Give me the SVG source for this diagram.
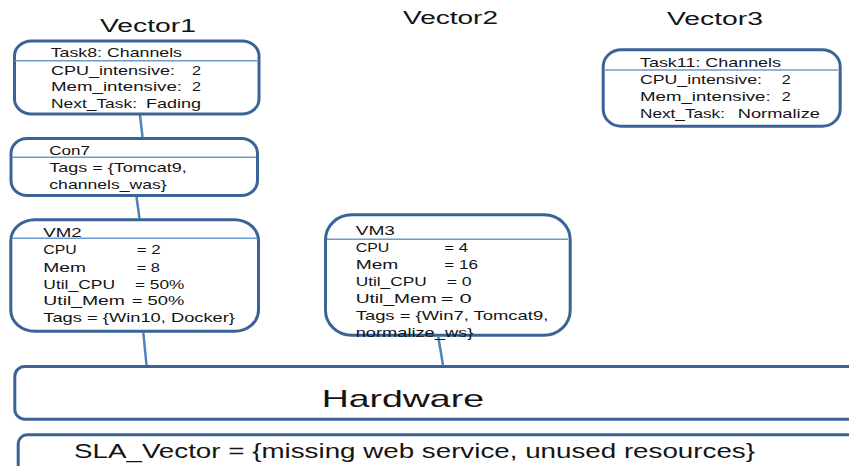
<svg xmlns="http://www.w3.org/2000/svg" width="849" height="466" viewBox="0 0 849 466">
<style>
.box{fill:#ffffff;stroke:#3a6496;stroke-width:3}
.sep{stroke:#6d9ad0;stroke-width:1.5}
.con{stroke:#4f81bd;stroke-width:2.5;fill:none}
text{font-family:"Liberation Sans",Arial,sans-serif;fill:#141414}
.b{font-size:13px}
.h{font-size:18px}
.hw{font-size:24px}
.sla{font-size:21px}
</style>
<rect width="849" height="466" fill="#ffffff"/>
<g id="titles">
<text class="h" x="100" y="31.5" textLength="96" lengthAdjust="spacingAndGlyphs">Vector1</text>
<text class="h" x="403" y="24" textLength="95" lengthAdjust="spacingAndGlyphs">Vector2</text>
<text class="h" x="667" y="25" textLength="96" lengthAdjust="spacingAndGlyphs">Vector3</text>
</g>
<g id="connectors">
<line class="con" x1="140" y1="115" x2="142.5" y2="137"/>
<line class="con" x1="136.5" y1="197" x2="139.5" y2="218.5"/>
<line class="con" x1="143.3" y1="332.5" x2="146.5" y2="365"/>
<line class="con" x1="438.3" y1="337" x2="443" y2="365"/>
</g>
<g id="task8">
<rect class="box" x="14.5" y="41" width="244.5" height="73" rx="17" ry="15"/>
<line class="sep" x1="15" y1="60.7" x2="257" y2="60.7"/>
<text class="b" x="50.7" y="57" textLength="131.3" lengthAdjust="spacingAndGlyphs">Task8: Channels</text>
<text class="b" x="51" y="74.5" textLength="124" lengthAdjust="spacingAndGlyphs">CPU_intensive:</text>
<text class="b" x="192" y="74.5" textLength="9" lengthAdjust="spacingAndGlyphs">2</text>
<text class="b" x="51" y="91.3" textLength="131" lengthAdjust="spacingAndGlyphs">Mem_intensive:</text>
<text class="b" x="192" y="91.3" textLength="9" lengthAdjust="spacingAndGlyphs">2</text>
<text class="b" x="51" y="108" textLength="86" lengthAdjust="spacingAndGlyphs">Next_Task:</text>
<text class="b" x="146" y="108" textLength="55" lengthAdjust="spacingAndGlyphs">Fading</text>
</g>
<g id="con7">
<rect class="box" x="11" y="138.5" width="246.5" height="57" rx="16" ry="15"/>
<line class="sep" x1="12" y1="157.3" x2="256" y2="157.3"/>
<text class="b" x="49.3" y="155" textLength="40.7" lengthAdjust="spacingAndGlyphs">Con7</text>
<text class="b" x="49.3" y="172" textLength="137.4" lengthAdjust="spacingAndGlyphs">Tags = {Tomcat9,</text>
<text class="b" x="49.3" y="189.3" textLength="117.4" lengthAdjust="spacingAndGlyphs">channels_was}</text>
</g>
<g id="vm2">
<rect class="box" x="10.8" y="219.8" width="247.7" height="111.4" rx="24" ry="21"/>
<line class="sep" x1="12" y1="238.3" x2="257" y2="238.3"/>
<text class="b" x="43.3" y="237.3" textLength="38.4" lengthAdjust="spacingAndGlyphs">VM2</text>
<text class="b" x="43.3" y="254.3" textLength="33.4" lengthAdjust="spacingAndGlyphs">CPU</text>
<text class="b" x="136.7" y="254.3" textLength="24" lengthAdjust="spacingAndGlyphs">= 2</text>
<text class="b" x="43.3" y="271.7" textLength="42.7" lengthAdjust="spacingAndGlyphs">Mem</text>
<text class="b" x="136.7" y="271.7" textLength="23.3" lengthAdjust="spacingAndGlyphs">= 8</text>
<text class="b" x="43.3" y="288.7" textLength="71.7" lengthAdjust="spacingAndGlyphs">Util_CPU</text>
<text class="b" x="135" y="288.7" textLength="49.3" lengthAdjust="spacingAndGlyphs">= 50%</text>
<text class="b" x="43.3" y="305.3" textLength="81.7" lengthAdjust="spacingAndGlyphs">Util_Mem</text>
<text class="b" x="131.7" y="305.3" textLength="52.6" lengthAdjust="spacingAndGlyphs">= 50%</text>
<text class="b" x="43.3" y="322" textLength="191.7" lengthAdjust="spacingAndGlyphs">Tags = {Win10, Docker}</text>
</g>
<g id="vm3">
<rect class="box" x="325.5" y="214.8" width="244.7" height="120.4" rx="26" ry="25"/>
<line class="sep" x1="327" y1="239.3" x2="568" y2="239.3"/>
<text class="b" x="355.7" y="235" textLength="39.3" lengthAdjust="spacingAndGlyphs">VM3</text>
<text class="b" x="355.7" y="252.3" textLength="33.6" lengthAdjust="spacingAndGlyphs">CPU</text>
<text class="b" x="444.3" y="252.3" textLength="23.7" lengthAdjust="spacingAndGlyphs">= 4</text>
<text class="b" x="355.7" y="269.3" textLength="42.6" lengthAdjust="spacingAndGlyphs">Mem</text>
<text class="b" x="444.3" y="269.3" textLength="33.7" lengthAdjust="spacingAndGlyphs">= 16</text>
<text class="b" x="355.7" y="286" textLength="71" lengthAdjust="spacingAndGlyphs">Util_CPU</text>
<text class="b" x="446.7" y="286" textLength="25" lengthAdjust="spacingAndGlyphs">= 0</text>
<text class="b" x="355.7" y="302.7" textLength="81" lengthAdjust="spacingAndGlyphs">Util_Mem</text>
<text class="b" x="440.7" y="302.7" textLength="31" lengthAdjust="spacingAndGlyphs">= 0</text>
<text class="b" x="355.7" y="320" textLength="192.6" lengthAdjust="spacingAndGlyphs">Tags = {Win7, Tomcat9,</text>
<text class="b" x="355.7" y="336.7" textLength="117.6" lengthAdjust="spacingAndGlyphs">normalize_ws}</text>
</g>
<g id="task11">
<rect class="box" x="603.2" y="49.8" width="237" height="76.4" rx="18" ry="17"/>
<line class="sep" x1="604" y1="70" x2="838" y2="70"/>
<text class="b" x="640" y="66.7" textLength="141" lengthAdjust="spacingAndGlyphs">Task11: Channels</text>
<text class="b" x="640" y="84" textLength="122" lengthAdjust="spacingAndGlyphs">CPU_intensive:</text>
<text class="b" x="781.7" y="84" textLength="9" lengthAdjust="spacingAndGlyphs">2</text>
<text class="b" x="640" y="100.7" textLength="130.7" lengthAdjust="spacingAndGlyphs">Mem_intensive:</text>
<text class="b" x="781.7" y="100.7" textLength="9" lengthAdjust="spacingAndGlyphs">2</text>
<text class="b" x="640" y="118.3" textLength="85" lengthAdjust="spacingAndGlyphs">Next_Task:</text>
<text class="b" x="737.7" y="118.3" textLength="82.3" lengthAdjust="spacingAndGlyphs">Normalize</text>
</g>
<g id="hardware">
<rect class="box" x="14.8" y="366.5" width="900" height="52.7" rx="10" ry="10"/>
<text class="hw" x="321.7" y="406.7" textLength="162.3" lengthAdjust="spacingAndGlyphs">Hardware</text>
</g>
<g id="sla">
<rect class="box" x="18.2" y="434.8" width="900" height="60" rx="9" ry="9"/>
<text class="sla" x="74" y="458.3" textLength="681" lengthAdjust="spacingAndGlyphs">SLA_Vector = {missing web service, unused resources}</text>
</g>
</svg>
